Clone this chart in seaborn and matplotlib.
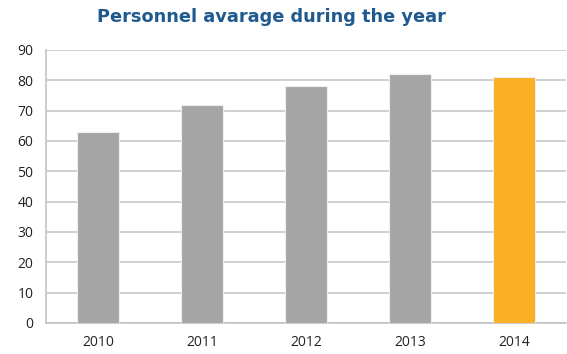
import matplotlib
matplotlib.use("Agg")
import matplotlib.pyplot as plt
import seaborn as sns
import pandas as pd
import numpy as np

years = ["2010", "2011", "2012", "2013", "2014"]
values = [63, 72, 78, 82, 81]
colors = ["#A5A5A5", "#A5A5A5", "#A5A5A5", "#A5A5A5", "#FBAF22"]
title = "Personnel avarage during the year"
yticks = [0, 10, 20, 30, 40, 50, 60, 70, 80, 90]

sns.set_style("white")
plt.rcParams['font.family'] = ['Open Sans', 'DejaVu Sans']

df = pd.DataFrame({"year": years, "value": values})

fig = plt.figure(figsize=(5.67, 3.54), dpi=100)
ax = fig.add_axes([46/567, 1-323/354, 520/567, 273/354])

sns.barplot(data=df, x="year", y="value", hue="year", palette=colors,
            legend=False, width=0.4, ax=ax, edgecolor="#EFEFEF", linewidth=0.8,
            saturation=1, zorder=3)

ax.set_ylim(0, 90)
ax.set_xlim(-0.5, 4.5)
ax.set_yticks(yticks)
ax.set_yticklabels([str(t) for t in yticks], fontsize=10, color="#222222")
ax.yaxis.grid(True, color="#C4C4C4", linewidth=1.1, zorder=0)
ax.set_axisbelow(True)
ax.set_xlabel("")
ax.set_ylabel("")
ax.tick_params(axis="x", which="major", length=0, labelsize=10, labelcolor="#222222", pad=9)
ax.set_xticks(np.arange(-0.5, 5.0, 1.0), minor=True)
ax.tick_params(axis="x", which="minor", length=5, color="#BFBFBF", width=1)
ax.tick_params(axis="y", length=5, color="#BFBFBF", width=1, pad=4)
for s in ["top", "right"]:
    ax.spines[s].set_visible(False)
ax.spines["left"].set_color("#BFBFBF")
ax.spines["bottom"].set_color("#BFBFBF")
ax.spines["left"].set_linewidth(1.1)
ax.spines["bottom"].set_linewidth(1.1)

fig.text(271/567, 1-17/354, title, ha="center", va="center", fontsize=12.8,
         fontweight="bold", color="#1F5A8E", family=["DejaVu Sans"])

fig.savefig("out.png", dpi=100)
